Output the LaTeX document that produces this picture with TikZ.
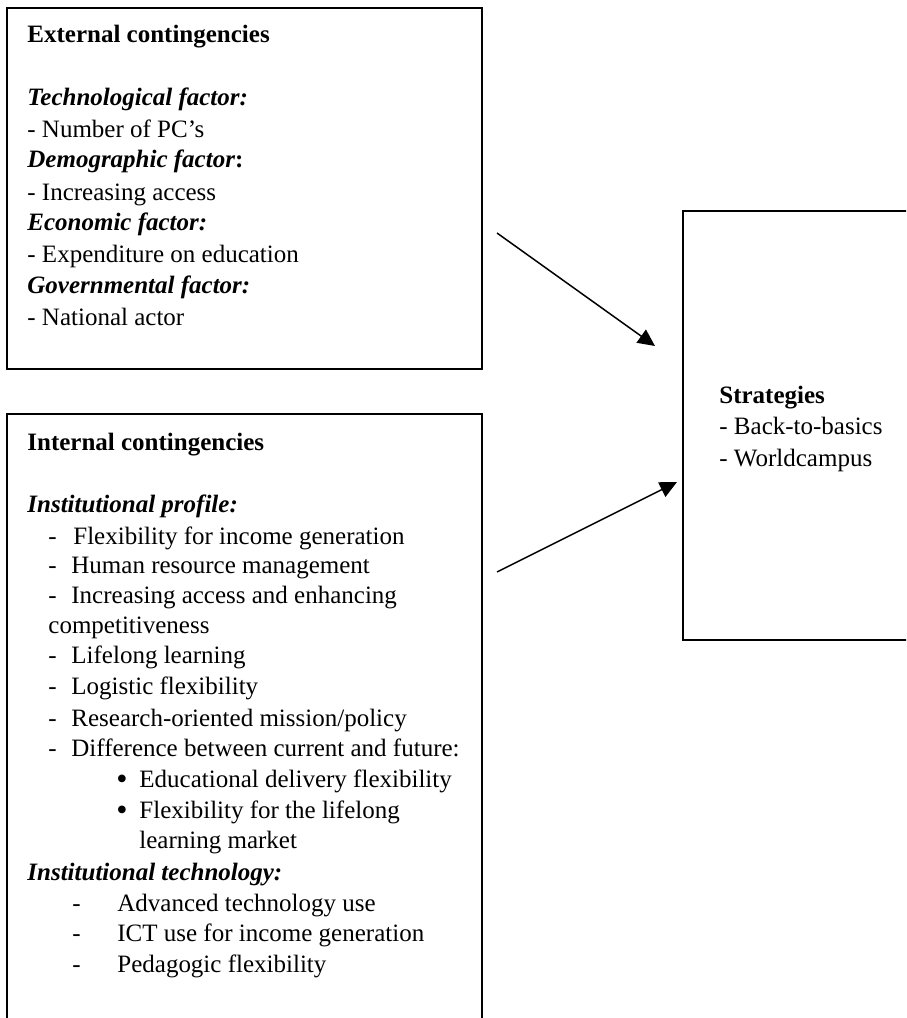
\documentclass[tikz,border=0pt]{standalone}
\usepackage{fontspec}
\setmainfont{Liberation Serif}
\usetikzlibrary{arrows.meta}

\tikzset{
  panel/.style={draw, line width=1pt, inner sep=0pt},
  txt/.style={anchor=base west, inner sep=0pt, font=\fontsize{12.5pt}{15.5pt}\selectfont},
  head/.style={txt, font=\fontsize{12.5pt}{15.5pt}\selectfont\bfseries},
  sub/.style={txt, font=\fontsize{12.5pt}{15.5pt}\selectfont\bfseries\itshape},
  dot/.style={txt, font=\fontsize{16pt}{15.5pt}\selectfont},
  flow/.style={line width=0.75pt, -{Triangle[length=8.5pt,width=8pt]}}
}

\begin{document}
\begin{tikzpicture}[x=0.5pt,y=-0.5pt]
  \useasboundingbox (0,0) rectangle (906,1018);
  \clip (0,0) rectangle (906,1018);

  % the three boxes
  \node[panel, minimum width=237.5pt, minimum height=180.5pt] (ext) at (244.5,188.5) {};
  \node[panel, minimum width=237.5pt, minimum height=310pt] (int) at (244.5,724) {};
  \node[panel, minimum width=118.5pt, minimum height=214.5pt] (strat) at (801.5,425.5) {};

  % external contingencies
  \node[head] (e0) at (27,42) {External contingencies};
  \node[sub]  (e1) at (27,105) {Technological factor:};
  \node[txt]  (e2) at (27,137) {- Number of PC’s};
  \node[sub]  (e3) at (27,167) {Demographic factor\textup{:}};
  \node[txt]  (e4) at (27,200) {- Increasing access};
  \node[sub]  (e5) at (27,230) {Economic factor:};
  \node[txt]  (e6) at (27,262) {- Expenditure on education};
  \node[sub]  (e7) at (27,293) {Governmental factor:};
  \node[txt]  (e8) at (27,325) {- National actor};

  % internal contingencies
  \node[head] (i0) at (27,450) {Internal contingencies};
  \node[sub]  (i1) at (27,512) {Institutional profile:};
  \node[txt] (d1) at (48,544) {-};
  \node[txt] (i2) at (73,544) {Flexibility for income generation};
  \node[txt] (d2) at (48,573) {-};
  \node[txt] (i3) at (71,573) {Human resource management};
  \node[txt] (d3) at (48,603) {-};
  \node[txt] (i4) at (71,603) {Increasing access and enhancing};
  \node[txt] (i5) at (48,633) {competitiveness};
  \node[txt] (d4) at (48,663) {-};
  \node[txt] (i6) at (71,663) {Lifelong learning};
  \node[txt] (d5) at (48,694) {-};
  \node[txt] (i7) at (71,694) {Logistic flexibility};
  \node[txt] (d6) at (48,726) {-};
  \node[txt] (i8) at (71,726) {Research-oriented mission/policy};
  \node[txt] (d7) at (48,756) {-};
  \node[txt] (i9) at (71,756) {Difference between current and future:};
  \node[dot] (b1) at (116,789) {\textbullet};
  \node[txt] (i10) at (139,787) {Educational delivery flexibility};
  \node[dot] (b2) at (116,820) {\textbullet};
  \node[txt] (i11) at (139,818) {Flexibility for the lifelong};
  \node[txt] (i12) at (139,848) {learning market};
  \node[sub] (i13) at (27,880) {Institutional technology:};
  \node[txt] (d8) at (72,911) {-};
  \node[txt] (i14) at (117,911) {Advanced technology use};
  \node[txt] (d9) at (72,941) {-};
  \node[txt] (i15) at (117,941) {ICT use for income generation};
  \node[txt] (d10) at (72,972) {-};
  \node[txt] (i16) at (117,972) {Pedagogic flexibility};

  % strategies
  \node[head] (s0) at (719,403) {Strategies};
  \node[txt]  (s1) at (719,434) {- Back-to-basics};
  \node[txt]  (s2) at (719,466) {- Worldcampus};

  % arrows into the strategies box
  \coordinate (a1s) at (497,233);
  \coordinate (a1e) at (655,346);
  \coordinate (a2s) at (497,572);
  \coordinate (a2e) at (677,482);
  \draw[flow] (a1s) -- (a1e);
  \draw[flow] (a2s) -- (a2e);
\end{tikzpicture}
\end{document}
